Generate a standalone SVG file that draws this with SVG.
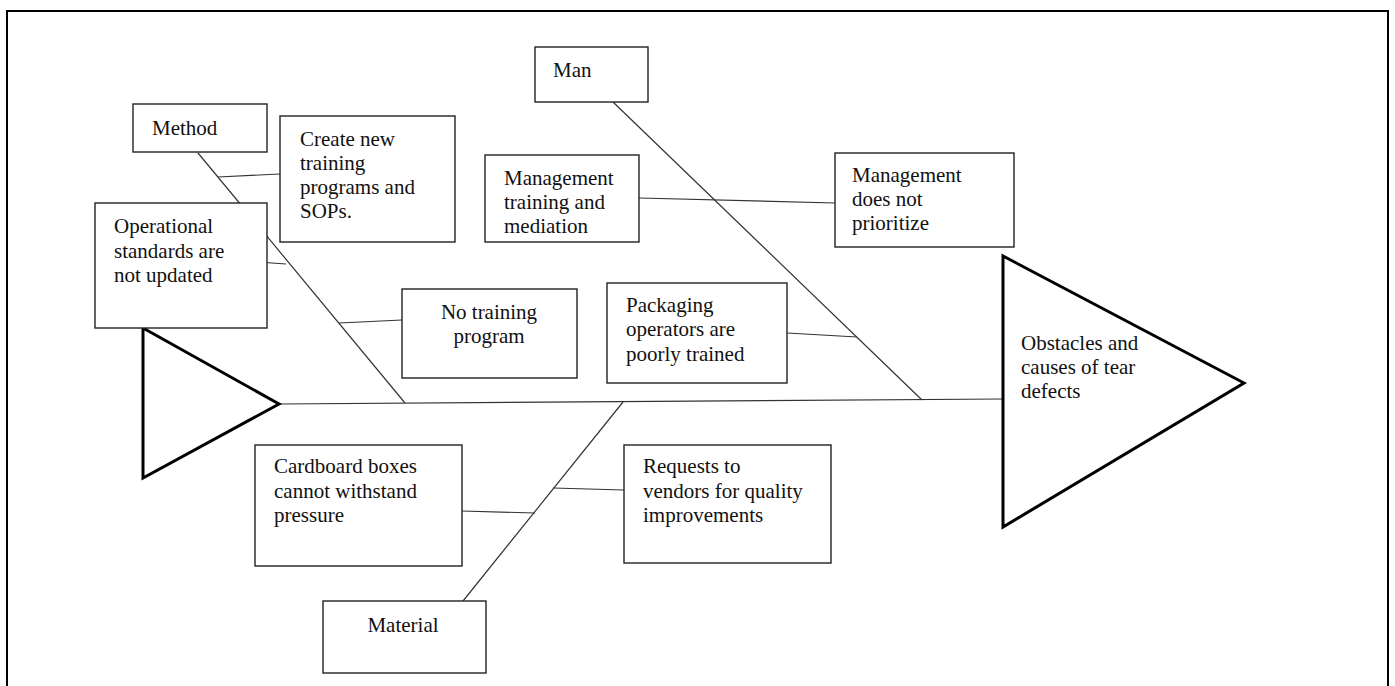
<svg xmlns="http://www.w3.org/2000/svg" width="1395" height="686" viewBox="0 0 1395 686">
<style>
.box{fill:#fff;stroke:#222;stroke-width:1.4}
.tri{fill:#fff;stroke:#000;stroke-width:3;stroke-linejoin:miter}
.ln{fill:none;stroke:#333;stroke-width:1.2}
text{font-family:"Liberation Serif","Times New Roman",serif;font-size:21px;fill:#111}
.c{text-anchor:middle}
</style>
<rect width="1395" height="686" fill="#fff"/>
<path d="M7,690 V11 H1388 V690" fill="none" stroke="#000" stroke-width="2"/>
<g id="connectors">
<line class="ln" x1="279" y1="404" x2="1003" y2="399"/>
<line class="ln" x1="198" y1="153" x2="405" y2="403"/>
<line class="ln" x1="280" y1="174" x2="218" y2="177"/>
<line class="ln" x1="258" y1="262" x2="286" y2="264"/>
<line class="ln" x1="402" y1="320" x2="339" y2="323"/>
<line class="ln" x1="613" y1="102" x2="922" y2="400"/>
<line class="ln" x1="639" y1="198" x2="835" y2="203"/>
<line class="ln" x1="787" y1="333" x2="857" y2="337"/>
<line class="ln" x1="623" y1="402" x2="463" y2="601"/>
<line class="ln" x1="462" y1="511" x2="535" y2="513"/>
<line class="ln" x1="553" y1="488" x2="624" y2="490"/>
</g>
<g id="tail"><polygon class="tri" points="143,328 143,478 279,404"/></g>
<g id="head"><polygon class="tri" points="1003,256 1003,527 1244,383"/>
<text x="1021" y="350">Obstacles and</text><text x="1021" y="374">causes of tear</text><text x="1021" y="398">defects</text></g>
<g id="method"><rect class="box" x="133" y="104" width="134" height="48"/><text x="152" y="135">Method</text></g>
<g id="create"><rect class="box" x="280" y="116" width="175" height="126"/>
<text x="300" y="146">Create new</text><text x="300" y="170">training</text><text x="300" y="194">programs and</text><text x="300" y="218">SOPs.</text></g>
<g id="operational"><rect class="box" x="95" y="203" width="172" height="125"/>
<text x="114" y="233">Operational</text><text x="114" y="258">standards are</text><text x="114" y="282">not updated</text></g>
<g id="notraining"><rect class="box" x="402" y="289" width="175" height="89"/>
<text class="c" x="489" y="319">No training</text><text class="c" x="489" y="343">program</text></g>
<g id="man"><rect class="box" x="535" y="47" width="113" height="55"/><text x="553" y="77">Man</text></g>
<g id="mgmttraining"><rect class="box" x="485" y="155" width="154" height="87"/>
<text x="504" y="185">Management</text><text x="504" y="209">training and</text><text x="504" y="233">mediation</text></g>
<g id="mgmtprior"><rect class="box" x="835" y="153" width="179" height="94"/>
<text x="852" y="182">Management</text><text x="852" y="206">does not</text><text x="852" y="230">prioritize</text></g>
<g id="packaging"><rect class="box" x="607" y="283" width="180" height="100"/>
<text x="626" y="312">Packaging</text><text x="626" y="336">operators are</text><text x="626" y="361">poorly trained</text></g>
<g id="cardboard"><rect class="box" x="255" y="445" width="207" height="121"/>
<text x="274" y="473">Cardboard boxes</text><text x="274" y="498">cannot withstand</text><text x="274" y="522">pressure</text></g>
<g id="requests"><rect class="box" x="624" y="445" width="207" height="118"/>
<text x="643" y="473">Requests to</text><text x="643" y="498">vendors for quality</text><text x="643" y="522">improvements</text></g>
<g id="material"><rect class="box" x="323" y="601" width="163" height="72"/><text class="c" x="403" y="632">Material</text></g>
</svg>
